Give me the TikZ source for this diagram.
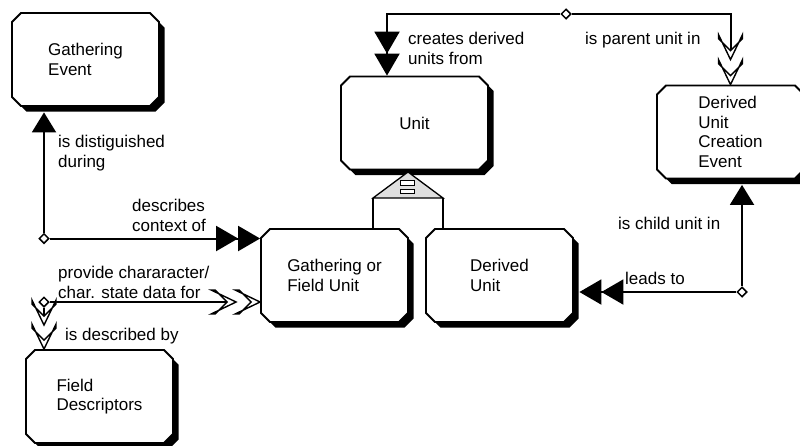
\documentclass[tikz,border=0pt]{standalone}
\usepackage{fontspec}
\setmainfont{Liberation Sans}
\usetikzlibrary{shapes.misc,shapes.geometric,arrows.meta,shadows,backgrounds,calc}
\begin{document}
\begin{tikzpicture}[x=1pt,y=-1pt,
  txt/.style={font=\fontsize{17}{19.5}\selectfont},
  entity/.style={txt, chamfered rectangle, chamfered rectangle xsep=4.5pt,
    chamfered rectangle ysep=4.5pt, draw, line width=1.8pt, fill=white,
    minimum width=147pt, minimum height=93pt, align=left, inner sep=0pt,
    general shadow={fill=black, shadow xshift=5.5pt, shadow yshift=-5.5pt}},
  rolename/.style={txt, anchor=north west, inner sep=0pt, align=left},
  joint/.style={diamond, draw, fill=white, line width=1.5pt, inner sep=0pt,
    minimum size=10pt},
  link/.style={line width=2pt},
  solidone/.style={-{Triangle[length=20pt,width=24pt]}},
  solidtwo/.style={-{Triangle[length=22pt,width=25pt,sep=0pt]Triangle[length=22pt,width=25pt,sep=0pt]}},
  chev/.pic={\draw[line width=1.4pt, fill=white, line join=miter]
    (0,0) -- (-25,12) -- (-21,12) -- (-9,0) -- (-21,-12) -- (-25,-12) -- cycle;},
  bar/.style={draw, fill=white, line width=1.1pt, inner sep=0pt,
    minimum width=14pt, minimum height=4.5pt}
]
\useasboundingbox (0,0) rectangle (800,445);

% entities
\node[entity] (GE)   at (85.5,59.5)  {Gathering\\Event};
\node[entity] (Unit) at (414.5,123)  {Unit};
\node[entity] (DUCE) at (730.5,132)  {Derived\\Unit\\Creation\\Event};
\node[entity] (GFU)  at (334.5,275.5) {Gathering or\\Field Unit};
\node[entity] (DU)   at (499.5,275.5) {Derived\\Unit};
\node[entity] (FD)   at (99.5,396.5) {Field\\Descriptors};

% relationship joints
\node[joint] (d1) at (44,238.5) {};
\node[joint] (d2) at (44,302) {};
\node[joint] (d3) at (566,14) {};
\node[joint] (d4) at (742,292) {};

% relationships (kept under the boxes and joints)
\begin{scope}[on background layer]
  \draw[link, solidone, shorten >=5.5pt] (d1) -- (d1 |- GE.south);
  \draw[link, solidtwo] (d1) -- (d1 -| GFU.west);
  \draw[link, solidtwo] (d3) -| ([xshift=-27.5pt]Unit.north);
  \draw[link, solidone, shorten >=5.5pt] (d4) -- (d4 |- DUCE.south);
  \draw[link, solidtwo, shorten >=5.5pt] (d4) -- (d4 -| DU.east);
  % many-valued ends with open chevrons
  \draw[link, shorten >=30pt] (d2) -- (d2 -| GFU.west);
  \draw[link, shorten >=30pt] (d2) -- (d2 |- FD.north);
  \draw[link, shorten >=30pt] (d3) -| (DUCE.north);
  \pic at (d2 -| GFU.west) {chev};
  \pic at ($(d2 -| GFU.west)+(-24,0)$) {chev};
  \pic[rotate=-90] at (d2 |- FD.north) {chev};
  \pic[rotate=-90] at ($(d2 |- FD.north)+(0,-24)$) {chev};
  \pic[rotate=-90] at (DUCE.north) {chev};
  \pic[rotate=-90] at ($(DUCE.north)+(0,-25)$) {chev};
\end{scope}

% subtype partition
\coordinate (gtop) at (408,172);
\coordinate (gleft) at (373,198);
\coordinate (gright) at (443,198);
\draw[line width=1.3pt, fill=gray!25, line join=miter] (gtop) -- (gleft) -- (gright) -- cycle;
\draw[line width=1.6pt] (gleft) -- (gleft |- GFU.north);
\draw[line width=1.6pt] (gright) -- (gright |- DU.north);
\node[bar] (b1) at (407.5,183) {};
\node[bar] (b2) at (407.5,191.5) {};

% role names
\node[rolename] (l1) at (58,135)  {is distiguished\\during};
\node[rolename] (l2) at (132,199) {describes\\context of};
\node[rolename] (l3) at (58,266)  {provide chararacter/\\char. state data for};
\node[rolename] (l4) at (65,328)  {is described by};
\node[rolename] (l5) at (408,32)  {creates derived\\units from};
\node[rolename] (l6) at (585,32)  {is parent unit in};
\node[rolename] (l7) at (618,217) {is child unit in};
\node[rolename] (l8) at (625,272) {leads to};
\end{tikzpicture}
\end{document}
